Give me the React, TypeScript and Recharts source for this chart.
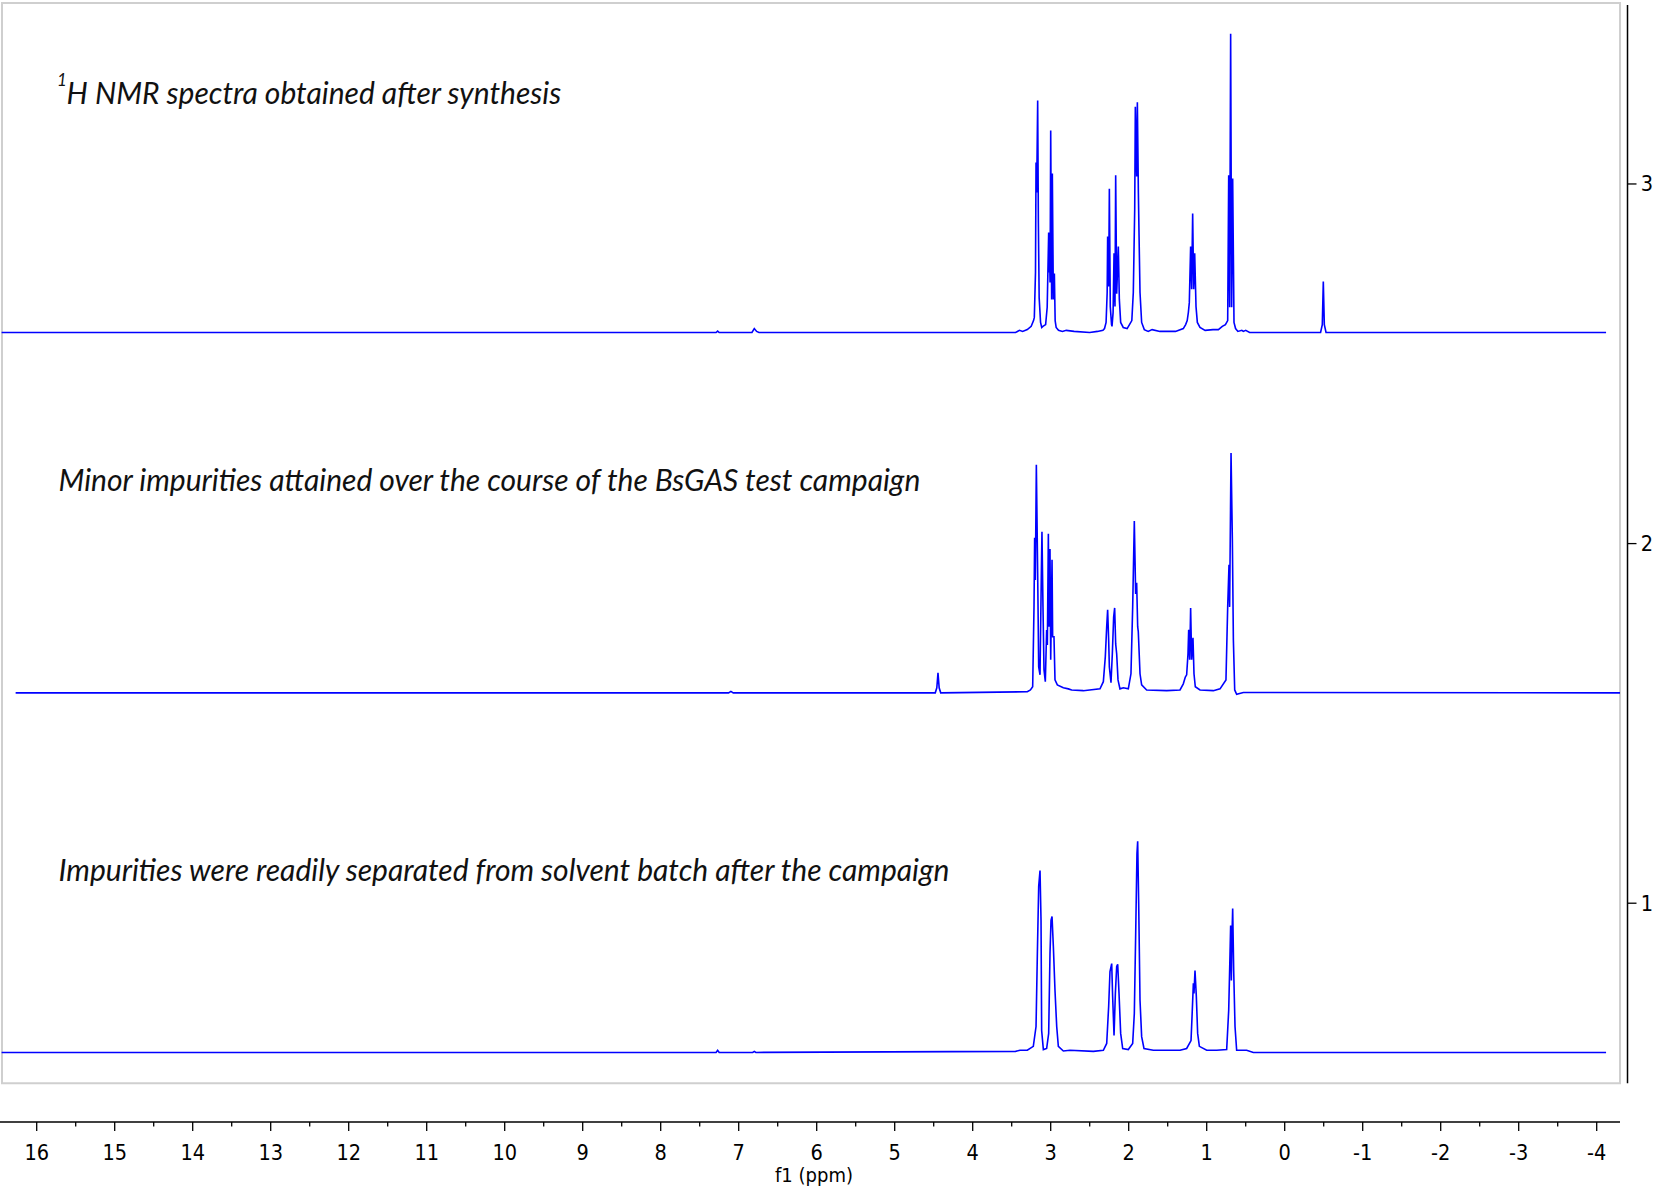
import { LineChart, Line, XAxis, YAxis, ReferenceArea, ReferenceLine, ReferenceDot } from 'recharts';

type Pt = [number, number];

// [shift (ppm), intensity above the trace's own baseline]
const synthesisTrace: Pt[] = [
  [16.45, 0], [7.6, 0], [7.29, 0], [7.27, 0.004], [7.25, 0], [6.83, 0], [6.8, 0.011], [6.77, 0.003], [6.74, 0],
  [3.45, 0], [3.4, 0.006], [3.36, 0.003], [3.3, 0.008], [3.25, 0.017], [3.22, 0.033], [3.21, 0.042],
  [3.195, 0.167], [3.188, 0.473], [3.18, 0.389], [3.167, 0.645], [3.158, 0.306], [3.148, 0.097], [3.13, 0.028],
  [3.115, 0.014], [3.1, 0.017], [3.065, 0.022], [3.045, 0.07], [3.026, 0.278], [3.021, 0.167], [3.017, 0.245],
  [3.008, 0.139], [3.0, 0.562], [2.988, 0.092], [2.979, 0.442], [2.966, 0.092], [2.953, 0.164], [2.943, 0.033],
  [2.93, 0.014], [2.9, 0.006], [2.85, 0.003], [2.8, 0.006], [2.7, 0.003], [2.5, 0], [2.4, 0.003], [2.33, 0.006],
  [2.31, 0.011], [2.29, 0.028], [2.276, 0.111], [2.27, 0.267], [2.257, 0.128], [2.248, 0.4], [2.236, 0.072],
  [2.22, 0.022], [2.214, 0.017], [2.2, 0.056], [2.188, 0.22], [2.176, 0.072], [2.167, 0.437], [2.154, 0.108],
  [2.133, 0.239], [2.12, 0.092], [2.103, 0.028], [2.07, 0.014], [2.02, 0.011], [1.99, 0.022], [1.96, 0.033],
  [1.941, 0.111], [1.923, 0.342], [1.915, 0.628], [1.898, 0.434], [1.889, 0.64], [1.876, 0.389], [1.868, 0.278],
  [1.855, 0.111], [1.834, 0.028], [1.8, 0.008], [1.75, 0.003], [1.7, 0.008], [1.6, 0.003], [1.4, 0.003],
  [1.3, 0.011], [1.27, 0.022], [1.25, 0.033], [1.235, 0.056], [1.223, 0.083], [1.206, 0.239], [1.193, 0.12],
  [1.18, 0.331], [1.167, 0.12], [1.154, 0.22], [1.137, 0.072], [1.12, 0.028], [1.086, 0.014], [1.02, 0.006],
  [0.92, 0.008], [0.85, 0.008], [0.8, 0.017], [0.76, 0.022], [0.731, 0.033], [0.718, 0.437], [0.706, 0.07],
  [0.693, 0.831], [0.68, 0.07], [0.667, 0.428], [0.65, 0.028], [0.63, 0.011], [0.6, 0.003], [0.55, 0.006],
  [0.53, 0.003], [0.5, 0.006], [0.45, 0], [-0.46, 0], [-0.482, 0.022], [-0.495, 0.142], [-0.508, 0.022],
  [-0.53, 0], [-4.12, 0],
];

const campaignTrace: Pt[] = [
  [16.27, 0], [7.13, 0], [7.1, 0.004], [7.07, 0], [4.48, 0], [4.46, 0.014], [4.445, 0.056], [4.43, 0.014],
  [4.41, 0], [3.3, 0.003], [3.26, 0.008], [3.231, 0.017], [3.214, 0.239], [3.206, 0.431], [3.197, 0.314],
  [3.184, 0.634], [3.167, 0.331], [3.154, 0.072], [3.137, 0.05], [3.12, 0.331], [3.112, 0.448], [3.099, 0.239],
  [3.086, 0.064], [3.069, 0.031], [3.052, 0.175], [3.043, 0.133], [3.03, 0.442], [3.022, 0.184], [3.009, 0.4],
  [3.0, 0.092], [2.983, 0.37], [2.975, 0.156], [2.958, 0.156], [2.945, 0.036], [2.915, 0.022], [2.838, 0.014],
  [2.774, 0.011], [2.731, 0.008], [2.582, 0.006], [2.368, 0.011], [2.325, 0.031], [2.3, 0.1], [2.282, 0.184],
  [2.27, 0.231], [2.257, 0.147], [2.248, 0.072], [2.227, 0.028], [2.21, 0.108], [2.193, 0.211], [2.18, 0.236],
  [2.167, 0.136], [2.154, 0.108], [2.137, 0.036], [2.112, 0.011], [2.069, 0.014], [2.005, 0.011], [1.971, 0.053],
  [1.949, 0.239], [1.928, 0.478], [1.911, 0.275], [1.898, 0.306], [1.885, 0.184], [1.877, 0.17], [1.855, 0.053],
  [1.834, 0.022], [1.77, 0.008], [1.513, 0.006], [1.342, 0.008], [1.3, 0.025], [1.274, 0.044], [1.257, 0.05],
  [1.24, 0.108], [1.231, 0.175], [1.218, 0.092], [1.206, 0.236], [1.193, 0.092], [1.176, 0.153], [1.163, 0.053],
  [1.146, 0.017], [1.086, 0.008], [0.915, 0.006], [0.829, 0.011], [0.753, 0.036], [0.731, 0.239], [0.714, 0.356],
  [0.706, 0.239], [0.688, 0.667], [0.671, 0.425], [0.658, 0.147], [0.641, 0.008], [0.616, -0.004], [0.53, 0.001],
  [0.402, 0.001], [-4.3, 0],
];

const separatedTrace: Pt[] = [
  [16.45, 0], [7.29, 0], [7.27, 0.006], [7.25, 0], [6.82, 0], [6.8, 0.003], [6.78, 0], [3.45, 0.003],
  [3.394, 0.006], [3.3, 0.006], [3.223, 0.017], [3.188, 0.072], [3.171, 0.275], [3.154, 0.462], [3.137, 0.506],
  [3.124, 0.367], [3.116, 0.061], [3.094, 0.008], [3.052, 0.011], [3.026, 0.053], [3.009, 0.275], [2.996, 0.367],
  [2.983, 0.378], [2.966, 0.295], [2.945, 0.172], [2.923, 0.072], [2.902, 0.017], [2.838, 0.004], [2.753, 0.006],
  [2.453, 0.003], [2.325, 0.006], [2.282, 0.025], [2.257, 0.128], [2.24, 0.225], [2.218, 0.247], [2.206, 0.156],
  [2.188, 0.047], [2.171, 0.164], [2.154, 0.239], [2.141, 0.245], [2.124, 0.164], [2.103, 0.053], [2.077, 0.011],
  [2.005, 0.008], [1.949, 0.025], [1.928, 0.108], [1.911, 0.323], [1.894, 0.553], [1.885, 0.587], [1.872, 0.414],
  [1.855, 0.145], [1.834, 0.044], [1.804, 0.011], [1.684, 0.006], [1.342, 0.006], [1.257, 0.011], [1.201, 0.033],
  [1.188, 0.1], [1.171, 0.192], [1.163, 0.164], [1.15, 0.228], [1.133, 0.156], [1.116, 0.053], [1.094, 0.017],
  [1.0, 0.006], [0.872, 0.006], [0.744, 0.008], [0.718, 0.117], [0.701, 0.275], [0.693, 0.353], [0.684, 0.2],
  [0.676, 0.323], [0.667, 0.4], [0.654, 0.228], [0.637, 0.072], [0.616, 0.006], [0.488, 0.006], [0.402, 0],
  [-4.12, 0],
];

// where each trace sits on the right-hand scale
const TRACE_OFFSETS = [2.587, 1.585, 0.585];

const NOTE_TEXTS = [
  'H NMR spectra obtained after synthesis',
  'Minor impurities attained over the course of the BsGAS test campaign',
  'Impurities were readily separated from solvent batch after the campaign',
];
const NOTE_PPM = [15.74, 15.72, 15.72];
const NOTE_LEVEL = [3.221, 2.147, 1.062];

const X_TICKS = [
  16, 15.5, 15, 14.5, 14, 13.5, 13, 12.5, 12, 11.5, 11, 10.5, 10, 9.5, 9, 8.5, 8, 7.5, 7, 6.5, 6, 5.5, 5,
  4.5, 4, 3.5, 3, 2.5, 2, 1.5, 1, 0.5, 0, -0.5, -1, -1.5, -2, -2.5, -3, -3.5, -4,
];
const Y_TICKS = [1, 2, 3];

const X_DOMAIN: [number, number] = [-4.2987, 16.4705];
const Y_DOMAIN: [number, number] = [0.3916, 3.506];

const BLUE = '#0000ff';
const AXIS_FONT = "'DejaVu Sans Condensed', 'DejaVu Sans', sans-serif";
const NOTE_FONT = "Lato, 'Open Sans', sans-serif";

const toRows = (trace: Pt[], offset: number) =>
  trace.map(([ppm, v]) => ({ ppm, y: +(v + offset).toFixed(4) }));

const PpmTick = ({ x, y, payload }: any) => {
  const major = Number.isInteger(payload.value);
  return (
    <g>
      <line x1={x} x2={x} y1={y} y2={y + (major ? 9 : 4.5)} stroke="#000" strokeWidth={1.3} />
      {major && (
        <text x={x} y={y + 30} textAnchor="middle" dominantBaseline="central"
          fontFamily={AXIS_FONT} fontStretch="condensed" fontSize={21.5} fill="#000">
          {payload.value}
        </text>
      )}
    </g>
  );
};

const OffsetTick = ({ x, y, payload }: any) => (
  <g>
    <line x1={x + 7.5} x2={x + 16.5} y1={y} y2={y} stroke="#000" strokeWidth={1.3} />
    <text x={x + 27} y={y} textAnchor="middle" dominantBaseline="central"
      fontFamily={AXIS_FONT} fontStretch="condensed" fontSize={21.5} fill="#000">
      {payload.value}
    </text>
  </g>
);

const AxisTitle = ({ viewBox }: any) => {
  const vb = viewBox ?? { x: 0, y: 1122, width: 1620, height: 64 };
  return (
    <text x={vb.x + vb.width / 2 + 4} y={vb.y + 53} textAnchor="middle" dominantBaseline="central"
      fontFamily={AXIS_FONT} fontStretch="condensed" fontSize={20} fill="#000">
      f1 (ppm)
    </text>
  );
};

const Note = ({ viewBox, text, sup }: any) => {
  const x = viewBox?.x ?? 0;
  const y = viewBox?.y ?? 0;
  return (
    <text x={x} y={y} fontFamily={NOTE_FONT} fontStyle="italic" fontSize={30} fill="#111">
      {sup ? <tspan fontSize={17} dy={-18}>{sup}</tspan> : null}
      {sup ? <tspan x={x + 9.6} dy={18}>{text}</tspan> : text}
    </text>
  );
};

export default function App() {
  const traces = [synthesisTrace, campaignTrace, separatedTrace];

  return (
    <div style={{ position: 'absolute', left: 0, top: 0, width: 1657, height: 1186, background: '#fff' }}>
      <LineChart width={1657} height={1186} margin={{ top: 2, right: 0, bottom: 0, left: 0 }}>
        <XAxis
          dataKey="ppm"
          type="number"
          domain={X_DOMAIN}
          reversed
          allowDataOverflow
          ticks={X_TICKS}
          interval={0}
          height={64}
          tickSize={0}
          tickMargin={0}
          tickLine={false}
          axisLine={{ stroke: '#000', strokeWidth: 1.5 }}
          tick={<PpmTick />}
          label={<AxisTitle />}
        />
        <YAxis
          orientation="right"
          type="number"
          domain={Y_DOMAIN}
          allowDataOverflow
          ticks={Y_TICKS}
          interval={0}
          width={37}
          tickSize={0}
          tickMargin={0}
          tickLine={false}
          axisLine={false}
          tick={<OffsetTick />}
        />
        <ReferenceArea
          x1={-4.299}
          x2={16.445}
          y1={0.4997}
          y2={3.503}
          ifOverflow="visible"
          fill="#ffffff"
          fillOpacity={0}
          stroke="#cfcfcf"
          strokeOpacity={1}
          strokeWidth={2}
        />
        <ReferenceLine
          segment={[{ x: -4.395, y: 0.4997 }, { x: -4.395, y: 3.498 }]}
          ifOverflow="visible"
          stroke="#000"
          strokeWidth={1.5}
        />
        {traces.map((trace, i) => (
          <Line
            key={i}
            data={toRows(trace, TRACE_OFFSETS[i])}
            dataKey="y"
            type="linear"
            stroke={BLUE}
            strokeWidth={1.6}
            dot={false}
            activeDot={false}
            isAnimationActive={false}
          />
        ))}
        {NOTE_TEXTS.map((text, i) => (
          <ReferenceDot
            key={text}
            x={NOTE_PPM[i]}
            y={NOTE_LEVEL[i]}
            r={0}
            fill="none"
            stroke="none"
            ifOverflow="visible"
            label={<Note text={text} sup={i === 0 ? '1' : undefined} />}
          />
        ))}
      </LineChart>
    </div>
  );
}
